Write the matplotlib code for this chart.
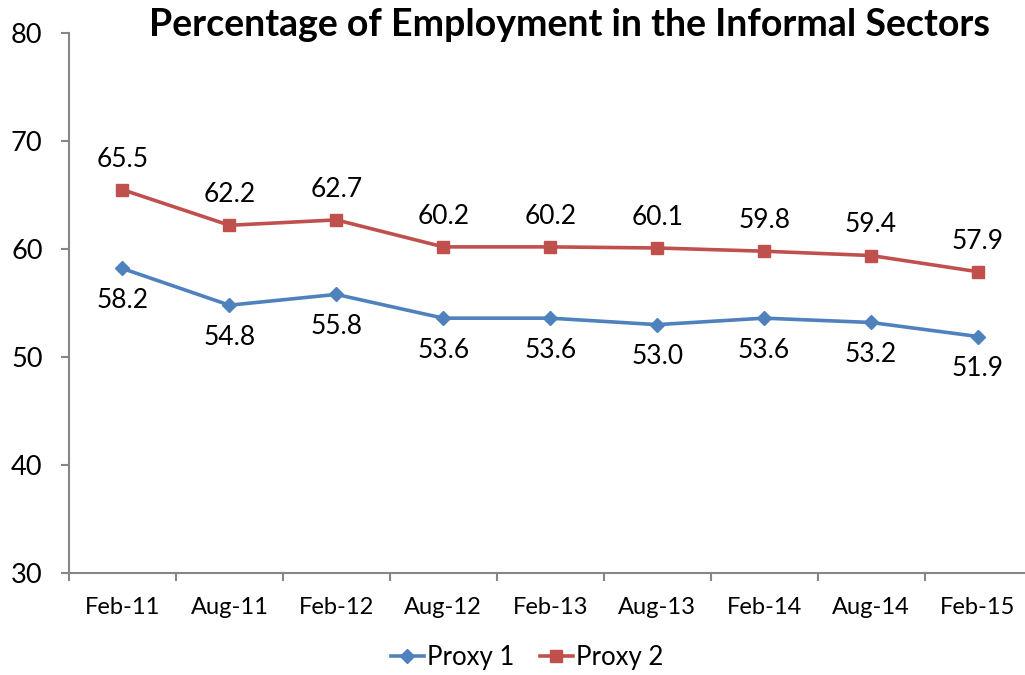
import numpy as np
import matplotlib
matplotlib.use('Agg')
import matplotlib.pyplot as plt

plt.rcParams['font.family'] = ['Lato', 'DejaVu Sans']

periods = ['Feb-11', 'Aug-11', 'Feb-12', 'Aug-12', 'Feb-13', 'Aug-13', 'Feb-14', 'Aug-14', 'Feb-15']
proxy1 = [58.2, 54.8, 55.8, 53.6, 53.6, 53.0, 53.6, 53.2, 51.9]
proxy2 = [65.5, 62.2, 62.7, 60.2, 60.2, 60.1, 59.8, 59.4, 57.9]

blue = '#4F81BD'
red = '#C0504D'
grey = '#868686'

fig = plt.figure(figsize=(10.25, 6.75), dpi=100)
ax = fig.add_axes([0.0673, 0.1511, 0.9390, 0.7999])

x = np.arange(len(periods))
ax.plot(x, proxy1, color=blue, lw=2.6, marker='D', ms=7.5, label='Proxy 1')
ax.plot(x, proxy2, color=red, lw=2.6, marker='s', ms=8.5, label='Proxy 2')

for i in range(len(x)):
    ax.annotate('%.1f' % proxy2[i], (x[i], proxy2[i]), xytext=(0, 22), textcoords='offset points',
                ha='center', va='center', fontsize=19)
    ax.annotate('%.1f' % proxy1[i], (x[i], proxy1[i]), xytext=(0, -23), textcoords='offset points',
                ha='center', va='center', fontsize=19)

ax.set_xlim(-0.5, len(periods) - 0.5)
ax.set_ylim(30, 80)
ax.set_yticks(range(30, 81, 10))
ax.tick_params(axis='y', labelsize=19.5, length=6, color=grey, width=1.5, pad=13)
ax.set_xticks(x)
ax.set_xticklabels(periods)
ax.set_xticks(np.arange(-0.5, len(periods)), minor=True)
ax.tick_params(axis='x', which='major', length=0, labelsize=17, pad=17)
ax.tick_params(axis='x', which='minor', length=6, color=grey, width=1.5)

for s in ['top', 'right']:
    ax.spines[s].set_visible(False)
for s in ['left', 'bottom']:
    ax.spines[s].set_color(grey)
    ax.spines[s].set_linewidth(1.5)

fig.text(0.556, 0.963, 'Percentage of Employment in the Informal Sectors', ha='center', va='center',
         fontsize=27, fontweight='bold')

ax.legend(loc='center', bbox_to_anchor=(0.514, 0.026), bbox_transform=fig.transFigure, ncol=2,
          frameon=False, fontsize=18.5, handlelength=1.3, handletextpad=0.1, columnspacing=1.0)

fig.savefig('out.png', dpi=100)
